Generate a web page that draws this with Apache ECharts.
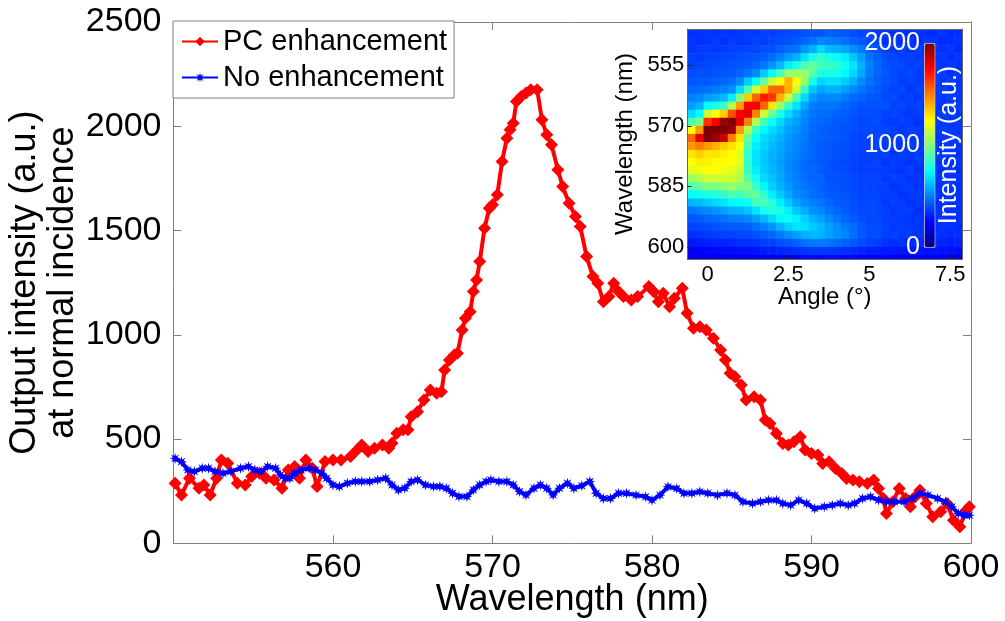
<!DOCTYPE html>
<html>
<head>
<meta charset="utf-8">
<script src="https://cdn.jsdelivr.net/npm/echarts@6/dist/echarts.min.js"></script>
<style>
  html, body { margin: 0; padding: 0; background: #fff; }
  #chart { width: 1005px; height: 621px; }
</style>
</head>
<body>
<div id="chart"></div>
<script>
const FONT = "'Liberation Sans', Arial, Helvetica, sans-serif";

// Emission spectrum with photonic-crystal enhancement: [wavelength nm, intensity a.u.]
const pcSpectrum = [
  [550.1,288],[550.5,232],[551.0,312],[551.6,264],[551.9,280],[552.3,232],[552.7,312],[553.0,400],
  [553.4,384],[554.0,288],[554.5,280],[554.9,320],[555.4,336],[555.8,312],[556.3,304],[556.8,264],
  [557.2,352],[557.6,368],[557.9,312],[558.3,400],[558.7,360],[559.0,272],[559.5,392],[560.0,400],
  [560.5,400],[561.1,416],[561.5,448],[561.8,472],[562.2,440],[562.6,456],[563.1,472],[563.5,456],
  [563.7,480],[564.0,528],[564.4,544],[564.7,544],[564.9,607],[565.3,631],[565.7,687],[566.1,735],
  [566.5,720],[566.8,727],[567.0,831],[567.3,879],[567.6,903],[567.8,911],[568.1,1023],[568.3,1079],
  [568.6,1111],[568.8,1207],[569.0,1263],[569.2,1351],[569.5,1511],[569.8,1607],[570.0,1623],[570.3,1671],
  [570.6,1831],[570.9,1943],[571.1,1983],[571.3,2015],[571.5,2119],[571.8,2143],[572.1,2159],[572.4,2175],
  [572.8,2175],[573.1,2031],[573.4,1959],[573.7,1911],[574.1,1791],[574.4,1711],[574.8,1631],[575.2,1567],
  [575.5,1519],[575.9,1375],[576.3,1279],[576.6,1247],[576.95,1159],[577.3,1183],[577.6,1247],[577.9,1207],
  [578.2,1183],[578.7,1167],[579.1,1183],[579.8,1231],[580.1,1207],[580.4,1159],[580.7,1199],[581.1,1135],
  [581.4,1175],[581.9,1223],[582.2,1103],[582.6,1031],[583.0,1039],[583.4,1023],[583.85,983],[584.3,927],
  [584.6,879],[584.9,815],[585.2,799],[585.6,759],[585.9,687],[586.4,703],[586.8,687],[587.1,591],
  [587.4,575],[587.8,527],[588.2,479],[588.55,471],[588.9,487],[589.3,511],[589.6,447],[590.0,431],
  [590.4,423],[590.7,383],[591.1,391],[591.5,359],[591.9,335],[592.2,311],[592.6,303],[593.0,295],
  [593.5,287],[593.9,303],[594.2,263],[594.5,215],[594.7,143],[595.1,199],[595.5,263],[595.9,215],
  [596.2,175],[596.5,223],[596.8,255],[597.2,191],[597.6,127],[598.1,151],[598.5,191],[598.9,111],
  [599.3,79],[599.7,159],[599.9,175]
];

// Reference emission spectrum without enhancement: [wavelength nm, intensity a.u.]
const refSpectrum = [
  [550.1,407],[550.5,391],[550.9,352],[551.3,344],[551.8,360],[552.2,360],[552.6,344],[553.1,336],
  [553.6,344],[554.2,360],[554.7,368],[555.1,352],[555.5,344],[555.9,368],[556.4,360],[556.7,328],
  [557.0,312],[557.3,312],[557.6,336],[558.0,352],[558.5,360],[558.9,352],[559.3,336],[559.6,312],
  [560.0,280],[560.4,272],[560.9,288],[561.4,296],[561.8,296],[562.3,296],[562.8,304],[563.3,312],
  [563.7,280],[564.1,256],[564.5,264],[564.9,296],[565.3,304],[565.8,280],[566.3,272],[566.7,272],
  [567.1,264],[567.5,240],[567.9,224],[568.4,224],[568.8,256],[569.2,280],[569.6,296],[569.9,304],
  [570.4,296],[570.9,296],[571.3,280],[571.7,248],[572.1,232],[572.6,264],[573.0,280],[573.4,264],
  [573.8,232],[574.2,264],[574.7,288],[575.1,264],[575.6,276],[576.1,296],[576.5,240],[576.95,215],
  [577.4,215],[577.9,240],[578.4,240],[579.0,231],[579.6,223],[580.0,207],[580.5,231],[581.0,271],
  [581.55,263],[582.0,240],[582.5,240],[583.0,247],[583.5,240],[584.1,231],[584.7,240],[585.2,231],
  [585.7,199],[586.3,191],[586.8,199],[587.3,207],[587.8,207],[588.2,191],[588.7,183],[589.2,207],
  [589.7,191],[590.2,167],[590.8,175],[591.3,183],[591.8,191],[592.3,183],[592.7,191],[593.2,215],
  [593.7,223],[594.2,207],[594.7,199],[595.2,199],[595.8,199],[596.3,215],[596.8,240],[597.3,231],
  [597.9,215],[598.4,199],[598.8,175],[599.2,143],[599.6,135],[599.9,135]
];

// Angle-resolved emission map: one column of intensities per angle (deg),
// rows follow mapWavelengths (nm), each cell 0.25 deg x 2 nm.
const mapAngles = [-0.5,-0.25,0,0.25,0.5,0.75,1,1.25,1.5,1.75,2,2.25,2.5,2.75,3,3.25,3.5,3.75,
  4,4.25,4.5,4.75,5,5.25,5.5,5.75,6,6.25,6.5,6.75,7,7.25,7.5,7.75];
const mapWavelengths = [547,549,551,553,555,557,559,561,563,565,567,569,571,573,575,577,579,581,
  583,585,587,589,591,593,595,597,599,601,603];
const mapIntensity = [
  [340,360,350,380,380,400,420,450,500,560,680,900,1250,1550,1450,1300,1250,1200,1050,900,750,600,480,420,380,340,290,240,200],
  [350,340,370,360,390,410,430,460,520,600,750,1000,1450,1800,1500,1350,1280,1220,1100,950,780,620,500,430,390,350,300,250,200],
  [360,350,370,380,390,400,420,470,560,750,1150,1650,2000,2000,1450,1300,1280,1250,1150,1000,800,650,520,450,400,360,310,260,210],
  [350,370,360,380,400,410,440,490,580,800,1250,1750,2000,1950,1400,1300,1250,1250,1150,1000,820,680,540,460,410,370,320,260,210],
  [360,340,370,390,400,420,450,510,620,850,1350,1950,2000,1850,1350,1280,1250,1220,1150,1020,850,700,560,470,420,380,320,270,210],
  [350,370,380,390,410,430,470,540,720,1100,1600,2000,1950,1500,1300,1250,1250,1200,1150,1050,900,740,600,490,430,380,330,270,220],
  [360,350,380,400,420,450,520,680,1000,1450,1750,1800,1450,1300,1250,1200,1200,1150,1100,1000,880,750,600,500,430,390,340,280,220],
  [370,360,390,410,430,480,650,900,1350,1750,1800,1500,1100,950,880,840,840,860,920,1000,930,780,640,520,440,390,340,280,220],
  [360,380,390,420,450,520,750,1150,1550,1750,1500,1100,860,760,720,700,700,720,780,860,950,880,700,560,470,410,350,290,220],
  [380,370,400,430,480,650,950,1350,1700,1550,1150,880,740,680,660,640,640,650,680,740,850,900,780,620,500,430,370,300,230],
  [370,390,410,460,540,750,1150,1550,1650,1300,950,760,680,640,620,600,600,610,630,660,720,820,820,680,540,450,380,310,230],
  [380,400,440,500,620,900,1250,1550,1400,1050,800,680,630,600,580,570,560,570,580,600,640,720,800,740,600,490,400,320,240],
  [390,410,470,560,720,1050,1400,1400,1150,850,680,600,570,550,540,530,520,520,530,550,580,640,720,760,660,530,420,330,240],
  [400,430,480,600,800,1050,1250,1150,880,700,600,560,540,520,510,500,490,490,500,510,530,570,640,720,700,560,440,340,250],
  [410,450,550,700,900,1050,1050,850,680,580,530,510,500,490,480,470,460,460,470,480,500,530,590,660,690,600,470,350,260],
  [420,480,600,800,950,920,780,640,550,500,480,470,460,450,450,450,440,450,450,460,470,500,540,600,650,620,490,360,260],
  [420,520,680,850,880,800,670,570,510,480,460,450,440,440,430,430,430,430,440,440,450,480,520,570,620,600,490,360,260],
  [440,500,620,780,860,800,690,600,520,480,460,440,430,430,420,420,410,410,410,420,430,450,480,520,570,570,480,360,270],
  [430,490,600,760,840,780,690,600,520,470,440,430,420,420,410,410,400,400,410,410,420,430,450,480,530,540,460,350,270],
  [420,470,580,720,780,740,650,560,490,450,430,420,410,410,400,400,390,390,400,400,410,420,430,450,490,510,440,340,260],
  [400,440,530,640,700,670,590,520,460,430,410,400,400,390,390,380,380,380,390,390,400,400,410,430,460,470,420,330,260],
  [390,420,490,560,600,580,530,480,440,410,400,390,390,380,380,370,370,370,380,380,380,390,390,400,420,430,400,320,250],
  [380,400,440,480,500,490,470,450,420,410,400,390,390,380,380,370,370,370,380,380,380,390,390,390,400,400,380,310,250],
  [360,380,410,440,450,450,440,430,420,410,400,400,390,390,380,380,380,370,380,380,380,390,390,390,400,400,370,310,250],
  [370,350,380,400,410,420,410,400,390,410,380,370,390,370,360,380,350,370,360,380,370,360,380,370,380,370,350,300,260],
  [340,370,360,390,400,390,400,380,400,380,390,360,380,360,370,350,370,360,380,350,370,380,360,370,360,380,340,300,240],
  [360,340,380,370,390,380,370,390,370,390,370,380,360,380,350,370,360,350,370,360,350,370,370,360,370,360,350,290,250],
  [330,360,350,380,370,390,380,360,380,370,360,370,380,350,370,360,340,370,350,370,360,350,370,350,360,370,330,290,240],
  [350,330,370,360,380,360,370,380,360,380,370,350,370,360,350,370,360,340,360,350,370,360,340,360,350,350,340,290,250],
  [340,360,340,370,360,370,360,370,380,360,370,360,350,370,360,340,360,350,340,360,350,360,350,340,360,350,320,280,240],
  [330,350,360,350,370,360,380,360,370,370,350,370,360,350,370,360,350,360,350,340,360,340,360,350,340,350,330,290,230],
  [350,330,350,360,350,370,360,370,360,350,370,360,370,360,340,360,350,340,360,350,340,350,340,360,350,340,320,280,240],
  [330,340,360,340,360,350,370,350,370,360,360,350,360,350,360,350,340,360,340,360,350,340,350,340,350,330,310,280,230],
  [340,350,330,360,350,360,350,360,350,370,350,360,350,360,350,340,360,340,350,340,350,350,340,350,330,340,320,270,230]
];
const angleTicks = [0, 2.5, 5, 7.5];
const mapWavelengthTicks = [555, 570, 585, 600];

// Jet colour scale for the map
const jet = ['#00007F','#0000FF','#007FFF','#00FFFF','#7FFF7F','#FFFF00','#FF7F00','#FF0000','#7F0000'];

const cellW = 0.25, cellH = 2;
const mapCells = [];
mapAngles.forEach((a, i) => {
  mapWavelengths.forEach((w, j) => mapCells.push([a, w, mapIntensity[i][j]]));
});

const axisGray = '#808080';
const mainTick = { show: true, inside: true, length: 8, lineStyle: { color: axisGray } };
const noSplit = { show: false };
const plain = v => String(v);

const starPath = 'path://M10,5 L7.03,5.84 L8.54,8.54 L5.84,7.03 L5,10 L4.16,7.03 L1.46,8.54 L2.97,5.84 L0,5 L2.97,4.16 L1.46,1.46 L4.16,2.97 L5,0 L5.84,2.97 L8.54,1.46 L7.03,4.16 Z';

const chart = echarts.init(document.getElementById('chart'), null, { renderer: 'canvas' });

const option = {
  animation: false,
  backgroundColor: '#fff',
  textStyle: { fontFamily: FONT, color: '#000' },
  grid: [
    { left: 173.5, top: 22, right: 34, bottom: 77.7, containLabel: false, outerBoundsMode: 'none' },
    { left: 687.3, top: 29, width: 275, height: 230, containLabel: false, outerBoundsMode: 'none' },
    { left: 924, top: 43.3, width: 10.3, height: 203.4, containLabel: false, outerBoundsMode: 'none' }
  ],
  legend: {
    data: ['PC enhancement', 'No enhancement'],
    orient: 'vertical',
    left: 173, top: 21,
    padding: [5, 7, 5, 8],
    itemGap: 5,
    itemWidth: 36, itemHeight: 12,
    selectedMode: false,
    backgroundColor: '#fff',
    borderColor: axisGray, borderWidth: 1, borderRadius: 0,
    textStyle: { fontSize: 29, color: '#000', fontFamily: FONT, lineHeight: 31 }
  },
  xAxis: [
    { // main wavelength axis
      gridIndex: 0, type: 'value', min: 550, max: 600, interval: 10, position: 'bottom',
      axisLine: { show: true, onZero: false, lineStyle: { color: axisGray } },
      axisTick: mainTick,
      axisLabel: { fontSize: 34, color: '#000', margin: 7, showMinLabel: false, fontFamily: FONT, formatter: plain },
      splitLine: noSplit,
      name: 'Wavelength (nm)', nameLocation: 'middle', nameGap: 38.6, nameMoveOverlap: false,
      nameTextStyle: { fontSize: 36, color: '#000', fontFamily: FONT }
    },
    { // top edge of the box
      gridIndex: 0, type: 'value', min: 550, max: 600, interval: 10, position: 'top',
      axisLine: { show: true, onZero: false, lineStyle: { color: axisGray } },
      axisTick: mainTick, axisLabel: { show: false }, splitLine: noSplit
    },
    { // map angle axis
      gridIndex: 1, type: 'value', min: -0.625, max: 7.875, position: 'bottom', z: 10,
      axisLine: { show: true, onZero: false, lineStyle: { color: '#666' } },
      axisTick: { show: true, inside: true, length: 4, customValues: angleTicks, lineStyle: { color: '#222' } },
      axisLabel: { customValues: angleTicks, fontSize: 22, color: '#000', margin: 5, fontFamily: FONT, formatter: plain },
      splitLine: noSplit,
      name: 'Angle (°)', nameLocation: 'middle', nameGap: 26, nameMoveOverlap: false,
      nameTextStyle: { fontSize: 24, color: '#000', fontFamily: FONT }
    },
    { // map top frame
      gridIndex: 1, type: 'value', min: -0.625, max: 7.875, position: 'top', z: 10,
      axisLine: { show: true, onZero: false, lineStyle: { color: '#666' } },
      axisTick: { show: false }, axisLabel: { show: false }, splitLine: noSplit
    },
    { // colour bar
      gridIndex: 2, type: 'value', min: 0, max: 1, show: false
    }
  ],
  yAxis: [
    { // main intensity axis
      gridIndex: 0, type: 'value', min: 0, max: 2500, interval: 500, position: 'left',
      axisLine: { show: true, onZero: false, lineStyle: { color: axisGray } },
      axisTick: mainTick,
      axisLabel: { fontSize: 34, color: '#000', margin: 12, fontFamily: FONT, formatter: plain },
      splitLine: noSplit,
      name: 'Output intensity (a.u.)\nat normal incidence', nameLocation: 'middle', nameRotate: 90,
      nameGap: 91.5, nameMoveOverlap: false,
      nameTextStyle: { fontSize: 36, lineHeight: 38, color: '#000', align: 'center', fontFamily: FONT }
    },
    { // right edge of the box
      gridIndex: 0, type: 'value', min: 0, max: 2500, interval: 500, position: 'right',
      axisLine: { show: true, onZero: false, lineStyle: { color: axisGray } },
      axisTick: mainTick, axisLabel: { show: false }, splitLine: noSplit
    },
    { // map wavelength axis
      gridIndex: 1, type: 'value', min: 546, max: 603, inverse: true, position: 'left', z: 10,
      axisLine: { show: true, onZero: false, lineStyle: { color: '#666' } },
      axisTick: { show: true, inside: true, length: 4, customValues: mapWavelengthTicks, lineStyle: { color: '#222' } },
      axisLabel: { customValues: mapWavelengthTicks, fontSize: 22, color: '#000', margin: 3, fontFamily: FONT, formatter: plain },
      splitLine: noSplit,
      name: 'Wavelength (nm)', nameLocation: 'middle', nameRotate: 90, nameGap: 50, nameMoveOverlap: false,
      nameTextStyle: { fontSize: 24, color: '#000', fontFamily: FONT }
    },
    { // map right frame
      gridIndex: 1, type: 'value', min: 546, max: 603, inverse: true, position: 'right', z: 10,
      axisLine: { show: true, onZero: false, lineStyle: { color: '#666' } },
      axisTick: { show: false }, axisLabel: { show: false }, splitLine: noSplit
    },
    { // colour bar ticks
      gridIndex: 2, type: 'value', min: 0, max: 2000, interval: 1000, position: 'left', z: 10,
      axisLine: { show: false }, axisTick: { show: false }, splitLine: noSplit,
      axisLabel: { fontSize: 25, color: '#fff', margin: 4, fontFamily: FONT, formatter: plain }
    },
    { // colour bar title
      gridIndex: 2, type: 'value', min: 0, max: 2000, position: 'right', z: 10,
      axisLine: { show: false }, axisTick: { show: false }, axisLabel: { show: false }, splitLine: noSplit,
      name: 'Intensity (a.u.)', nameLocation: 'middle', nameRotate: 90, nameGap: 2, nameMoveOverlap: false,
      nameTextStyle: { fontSize: 25, color: '#fff', fontFamily: FONT }
    }
  ],
  visualMap: {
    type: 'continuous', min: 0, max: 2000, dimension: 2, seriesIndex: 2,
    inRange: { color: jet },
    calculable: false, hoverLink: false, realtime: false,
    left: 924, top: 43.3, itemWidth: 10.3, itemHeight: 203.4, padding: 0,
    borderColor: '#d0d0d0', borderWidth: 1,
    textStyle: { color: '#fff' }
  },
  series: [
    {
      name: 'PC enhancement', type: 'line', xAxisIndex: 0, yAxisIndex: 0,
      data: pcSpectrum, symbol: 'diamond', symbolSize: 13, showSymbol: true,
      lineStyle: { color: '#FF0000', width: 4 }, itemStyle: { color: '#FF0000' },
      z: 2
    },
    {
      name: 'No enhancement', type: 'line', xAxisIndex: 0, yAxisIndex: 0,
      data: refSpectrum, symbol: starPath, symbolSize: 11, showSymbol: true,
      lineStyle: { color: '#0000FF', width: 4 }, itemStyle: { color: '#0000FF' },
      z: 3
    },
    {
      name: 'map', type: 'custom', xAxisIndex: 2, yAxisIndex: 2,
      data: mapCells,
      encode: { x: 0, y: 1 },
      renderItem: function (params, api) {
        const a = api.value(0), w = api.value(1);
        const p0 = api.coord([a - cellW / 2, w - cellH / 2]);
        const p1 = api.coord([a + cellW / 2, w + cellH / 2]);
        const rect = echarts.graphic.clipRectByRect({
          x: Math.min(p0[0], p1[0]), y: Math.min(p0[1], p1[1]),
          width: Math.abs(p1[0] - p0[0]) + 0.6, height: Math.abs(p1[1] - p0[1]) + 0.6
        }, {
          x: params.coordSys.x, y: params.coordSys.y,
          width: params.coordSys.width, height: params.coordSys.height
        });
        if (!rect) return null;
        return { type: 'rect', shape: rect, style: { fill: api.visual('color') } };
      },
      z: 1
    }
  ]
};

chart.setOption(option);
</script>
</body>
</html>
